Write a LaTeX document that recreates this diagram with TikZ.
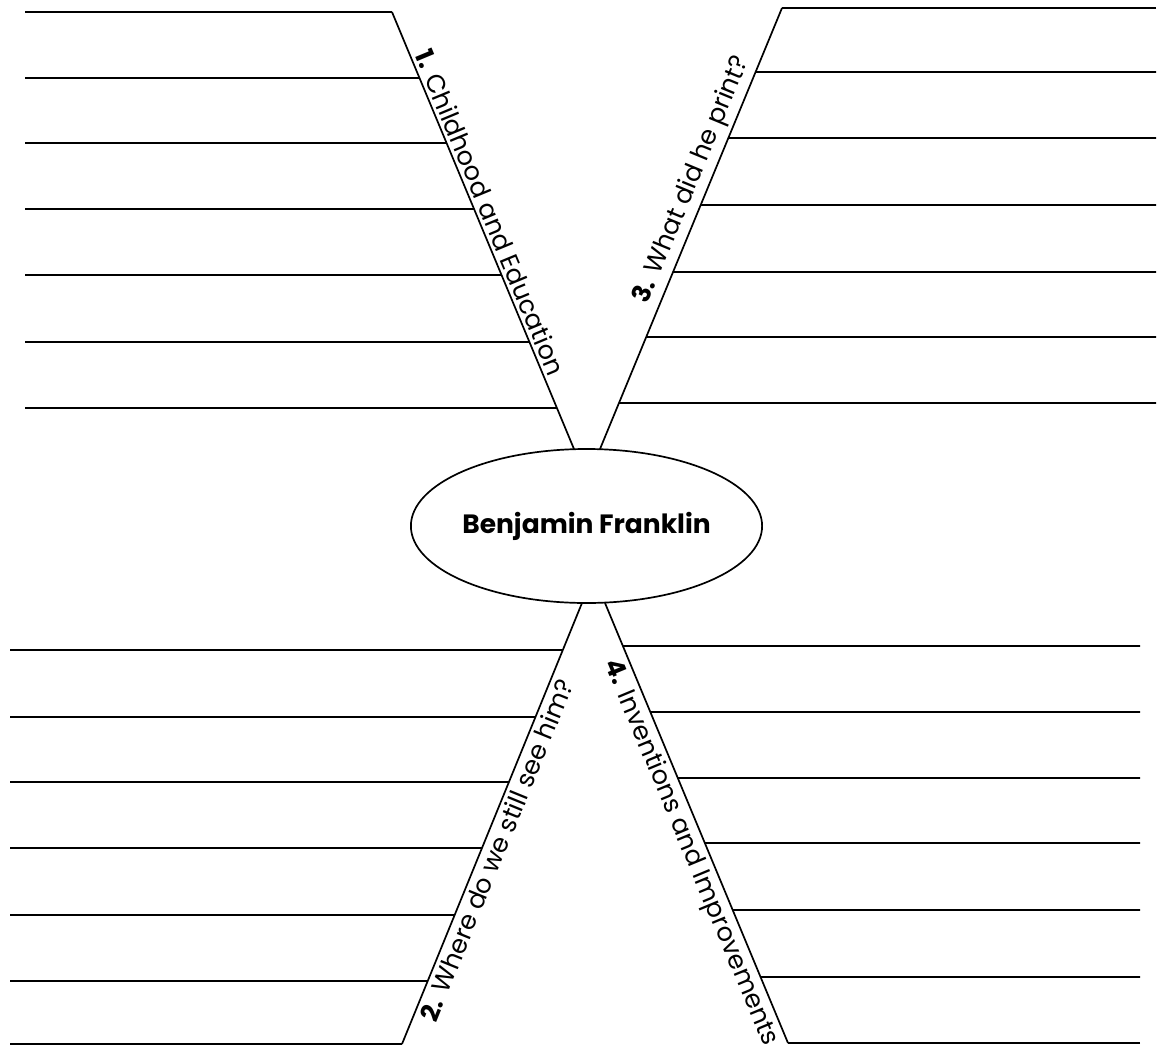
\documentclass[tikz,border=0pt]{standalone}
\usepackage{fontspec}
\setmainfont{Poppins}
\usetikzlibrary{calc,shapes.geometric}
\begin{document}
\begin{tikzpicture}[x=1pt,y=-1pt,
  rule/.style={line width=1.7pt},
  lbl/.style={font=\fontsize{25.5}{30}\selectfont, inner sep=4pt, sloped}
]
\useasboundingbox (0,0) rectangle (1160,1050);
\fill[white] (0,0) rectangle (1160,1050);

\node[draw, ellipse, line width=1.7pt, minimum width=345pt, minimum height=154pt, inner sep=0pt]
  (bf) at (586.5,526) {\fontsize{26.5}{30}\selectfont\bfseries Benjamin Franklin};

\coordinate (TL1) at (392,12);  \coordinate (TL2) at (574,449);
\coordinate (TR1) at (782,8);   \coordinate (TR2) at (600,449);
\coordinate (BL1) at (582,603); \coordinate (BL2) at (402,1044);
\coordinate (BR1) at (605,603); \coordinate (BR2) at (788,1043);

\draw[rule] (TL1) -- (TL2);
\draw[rule] (TR1) -- (TR2);
\draw[rule] (BL1) -- (BL2);
\draw[rule] (BR1) -- (BR2);

\foreach \y in {12,78,143,209,275,342,408}
  \draw[rule] (25,\y) -- ($(TL1)!{(\y-12)/437}!(TL2)$);
\foreach \y in {8,72,138,205,272,337,403}
  \draw[rule] (1156,\y) -- ($(TR1)!{(\y-8)/441}!(TR2)$);
\foreach \y in {650,717,782,848,915,981,1044}
  \draw[rule] (10,\y) -- ($(BL1)!{(\y-603)/441}!(BL2)$);
\foreach \y in {646,712,778,843,910,977,1043}
  \draw[rule] (1140,\y) -- ($(BR1)!{(\y-603)/440}!(BR2)$);

\path (TL1) -- (TL2) node[lbl, pos=0.47, above] (l1) {\textbf{1.} Childhood and Education};
\path (TR2) -- (TR1) node[lbl, pos=0.595, above] (l3) {\textbf{3.} What did he print?};
\path (BL2) -- (BL1) node[lbl, pos=0.452, below] (l2) {\textbf{2.} Where do we still see him?};
\path (BR1) -- (BR2) node[lbl, pos=0.553, below] (l4) {\textbf{4.} Inventions and Improvements};
\end{tikzpicture}
\end{document}
